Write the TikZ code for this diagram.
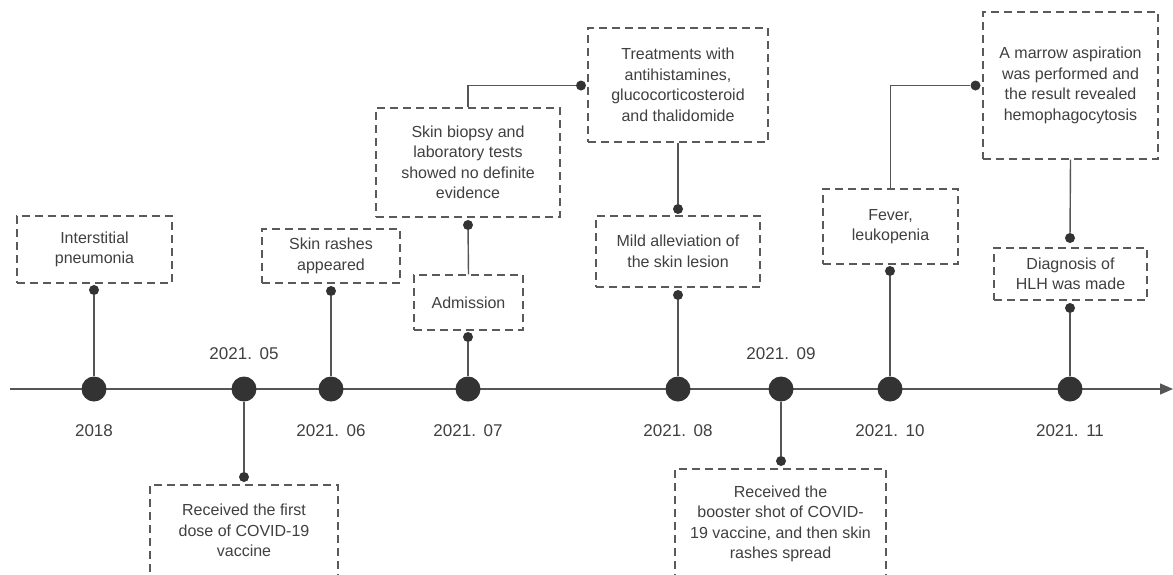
\documentclass[tikz,border=0pt]{standalone}
\usepackage{fontspec}
\setmainfont{Liberation Sans}
\usetikzlibrary{arrows.meta}
\definecolor{dotc}{HTML}{333333}
\definecolor{linec}{HTML}{555555}
\definecolor{boxc}{HTML}{5a5a5a}
\definecolor{txtc}{HTML}{404040}
\tikzset{
  evbox/.style={draw=boxc, line width=1.3pt, dash pattern=on 8pt off 5pt, text=txtc,
    font=\fontsize{16}{20.5}\selectfont, align=center, inner sep=0pt},
  bigdot/.style={circle, fill=dotc, minimum size=25pt, inner sep=0pt},
  smalldot/.style={circle, fill=dotc, minimum size=10pt, inner sep=0pt},
  conn/.style={draw=linec, line width=1.4pt},
  datelab/.style={text=txtc, font=\fontsize{17}{20}\selectfont, inner sep=0pt},
}
\newcommand{\dt}[1]{2021.\hspace{0.45em}#1}
\begin{document}
\begin{tikzpicture}[x=1pt,y=-1pt]
\useasboundingbox (0,0) rectangle (1173,574);
\clip (0,0) rectangle (1173,574);
\fill[white] (0,0) rectangle (1173,574);

% axis
\coordinate (axs) at (10,389);
\coordinate (axe) at (1173,389);
\draw[conn, -{Triangle[length=13pt,width=11pt]}] (axs) -- (axe);

% big dots
\node[bigdot] (d1) at (94,389) {};
\node[bigdot] (d2) at (244,389) {};
\node[bigdot] (d3) at (331,389) {};
\node[bigdot] (d4) at (468,389) {};
\node[bigdot] (d5) at (678,389) {};
\node[bigdot] (d6) at (781,389) {};
\node[bigdot] (d7) at (890,389) {};
\node[bigdot] (d8) at (1070,389) {};

% dates
\node[datelab] (l1) at (94,431) {2018};
\node[datelab] (l2) at (244,354) {\dt{05}};
\node[datelab] (l3) at (331,431) {\dt{06}};
\node[datelab] (l4) at (468,431) {\dt{07}};
\node[datelab] (l5) at (678,431) {\dt{08}};
\node[datelab] (l6) at (781,354) {\dt{09}};
\node[datelab] (l7) at (890,431) {\dt{10}};
\node[datelab] (l8) at (1070,431) {\dt{11}};

% boxes
\node[evbox, minimum width=155pt, minimum height=67pt] (b1) at (94.5,249.5) {Interstitial\\pneumonia};
\node[evbox, minimum width=188pt, minimum height=91pt] (b2) at (244,530.5) {Received the first\\dose of COVID-19\\vaccine};
\node[evbox, minimum width=138pt, minimum height=54pt] (b3) at (331,256) {Skin rashes\\appeared};
\node[evbox, minimum width=109pt, minimum height=55pt] (b4) at (468.5,302.5) {Admission};
\node[evbox, minimum width=184pt, minimum height=109pt] (b5) at (468,162.5) {Skin biopsy and\\laboratory tests\\showed no definite\\evidence};
\node[evbox, minimum width=180pt, minimum height=114pt] (b6) at (678,85) {Treatments with\\antihistamines,\\glucocorticosteroid\\and thalidomide};
\node[evbox, minimum width=164pt, minimum height=71pt] (b7) at (678,251.5) {Mild alleviation of\\the skin lesion};
\node[evbox, minimum width=211pt, minimum height=110pt] (b8) at (780.5,524) {Received the\\booster shot of COVID-\\19 vaccine, and then skin\\rashes spread};
\node[evbox, minimum width=135pt, minimum height=75pt] (b9) at (890.5,226.5) {Fever,\\leukopenia};
\node[evbox, minimum width=175pt, minimum height=147pt] (b10) at (1070.5,85.5) {A marrow aspiration\\was performed and\\the result revealed\\hemophagocytosis};
\node[evbox, minimum width=153pt, minimum height=52pt] (b11) at (1070.5,274) {Diagnosis of\\HLH was made};

% small dots
\node[smalldot] (s1) at (94,290) {};
\node[smalldot] (s2) at (244,477) {};
\node[smalldot] (s3) at (331,291) {};
\node[smalldot] (s4) at (468,337) {};
\node[smalldot] (s5) at (468,225) {};
\node[smalldot] (s6) at (581,85.5) {};
\node[smalldot] (s7) at (678,209) {};
\node[smalldot] (s8) at (678,295) {};
\node[smalldot] (s9) at (781,461) {};
\node[smalldot] (s10) at (890,271) {};
\node[smalldot] (s11) at (975.5,85.5) {};
\node[smalldot] (s12) at (1070,238) {};
\node[smalldot] (s13) at (1070,308) {};

% connectors
\draw[conn] (s1) -- (d1);
\draw[conn] (d2) -- (s2);
\draw[conn] (s3) -- (d3);
\draw[conn] (s4) -- (d4);
\draw[conn] (b4.north) -- (s5);
\draw[conn] (b5.north) |- (s6);
\draw[conn] (b6.south) -- (s7);
\draw[conn] (s8) -- (d5);
\draw[conn] (d6) -- (s9);
\draw[conn] (s10) -- (d7);
\draw[conn] (b9.north) |- (s11);
\draw[conn] (b10.south) -- (s12);
\draw[conn] (s13) -- (d8);
\end{tikzpicture}
\end{document}
